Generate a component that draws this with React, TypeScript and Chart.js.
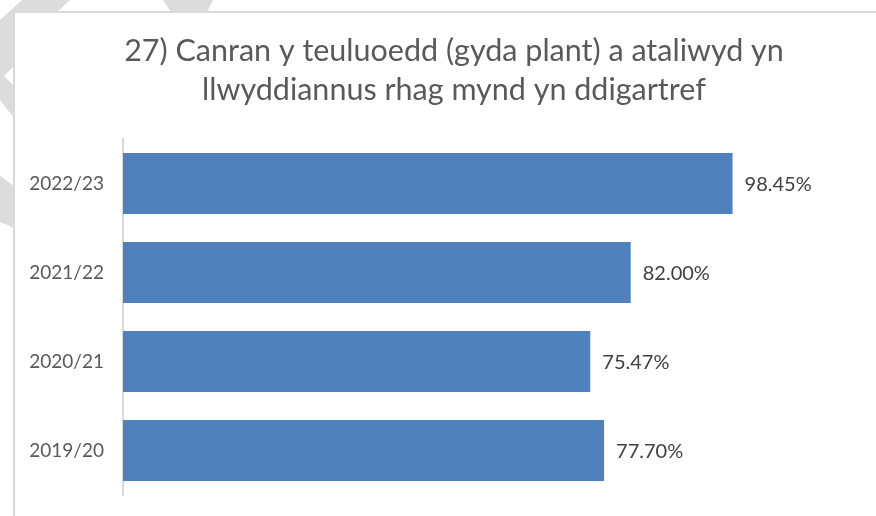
import React, { useEffect, useRef } from "react";
import { Chart, registerables } from "chart.js";

Chart.register(...registerables);

const categories = ["2022/23", "2021/22", "2020/21", "2019/20"];
const values = [98.45, 82.0, 75.47, 77.7];
const valueLabels = ["98.45%", "82.00%", "75.47%", "77.70%"];
const titleLines = [
  "27) Canran y teuluoedd (gyda plant) a ataliwyd yn",
  "llwyddiannus rhag mynd yn ddigartref",
];

const FONT = "Lato, 'Open Sans', sans-serif";
const BAR = "#4F81BD";
const TEXT = "#595959";
const FRAME = "#d9d9d9";

const decorPlugin = {
  id: "decor",
  beforeDraw(chart: any) {
    const ctx = chart.ctx;
    ctx.save();
    ctx.fillStyle = "#ffffff";
    ctx.fillRect(0, 0, chart.width, chart.height);
    // watermark fragments outside the frame
    ctx.fillStyle = "#dcdcdc";
    ctx.beginPath();
    ctx.moveTo(22, 0);
    ctx.lineTo(70, 0);
    ctx.lineTo(14, 52);
    ctx.lineTo(14, 118);
    ctx.lineTo(0, 100);
    ctx.lineTo(0, 20);
    ctx.closePath();
    ctx.fill();
    ctx.beginPath();
    ctx.moveTo(163, 0);
    ctx.lineTo(213, 0);
    ctx.lineTo(207, 12);
    ctx.lineTo(171, 12);
    ctx.closePath();
    ctx.fill();
    ctx.beginPath();
    ctx.moveTo(0, 176);
    ctx.lineTo(14, 186);
    ctx.lineTo(14, 228);
    ctx.lineTo(0, 222);
    ctx.closePath();
    ctx.fill();
    ctx.fillStyle = "#ffffff";
    ctx.beginPath();
    ctx.moveTo(14, 66);
    ctx.lineTo(14, 86);
    ctx.lineTo(4, 76);
    ctx.closePath();
    ctx.fill();
    // frame
    ctx.fillStyle = "#ffffff";
    ctx.fillRect(14, 12, chart.width - 14, chart.height - 12);
    ctx.strokeStyle = FRAME;
    ctx.lineWidth = 2;
    ctx.beginPath();
    ctx.moveTo(14, chart.height);
    ctx.lineTo(14, 12);
    ctx.lineTo(chart.width, 12);
    ctx.stroke();
    ctx.restore();
  },
  afterDatasetsDraw(chart: any) {
    const ctx = chart.ctx;
    ctx.save();
    // title
    ctx.fillStyle = TEXT;
    ctx.font = `30.5px ${FONT}`;
    ctx.textAlign = "center";
    ctx.textBaseline = "alphabetic";
    titleLines.forEach((line, i) => {
      ctx.fillText(line, 454, 61 + i * 39);
    });
    // data labels
    const meta = chart.getDatasetMeta(0);
    ctx.font = `20px ${FONT}`;
    ctx.fillStyle = "#404040";
    ctx.textAlign = "left";
    ctx.textBaseline = "middle";
    meta.data.forEach((bar: any, i: number) => {
      ctx.fillText(valueLabels[i], bar.x + 12, bar.y + 1);
    });
    ctx.restore();
  },
};

export default function App() {
  const ref = useRef<HTMLCanvasElement | null>(null);
  useEffect(() => {
    if (!ref.current) return;
    const chart = new Chart(ref.current, {
      type: "bar",
      data: {
        labels: categories,
        datasets: [
          {
            data: values,
            backgroundColor: BAR,
            borderWidth: 0,
            barPercentage: 0.685,
            categoryPercentage: 1,
          },
        ],
      },
      options: {
        indexAxis: "y",
        responsive: false,
        animation: false,
        layout: { padding: { top: 139, bottom: 21, left: 0, right: 10 } },
        plugins: {
          legend: { display: false },
          title: { display: false },
          tooltip: { enabled: false },
        },
        scales: {
          x: { display: false, min: 0, max: 120 },
          y: {
            grid: { display: false, drawTicks: false },
            border: { display: true, color: FRAME, width: 2 },
            ticks: { color: TEXT, font: { family: FONT, size: 19 }, padding: 19 },
            afterFit(scale: any) {
              scale.width = 123;
              scale.paddingTop = 0;
              scale.paddingBottom = 0;
            },
          },
        },
      },
      plugins: [decorPlugin],
    });
    return () => chart.destroy();
  }, []);
  return (
    <div style={{ position: "fixed", left: 0, top: 0, width: 876, height: 516 }}>
      <canvas ref={ref} width={876} height={516} />
    </div>
  );
}
